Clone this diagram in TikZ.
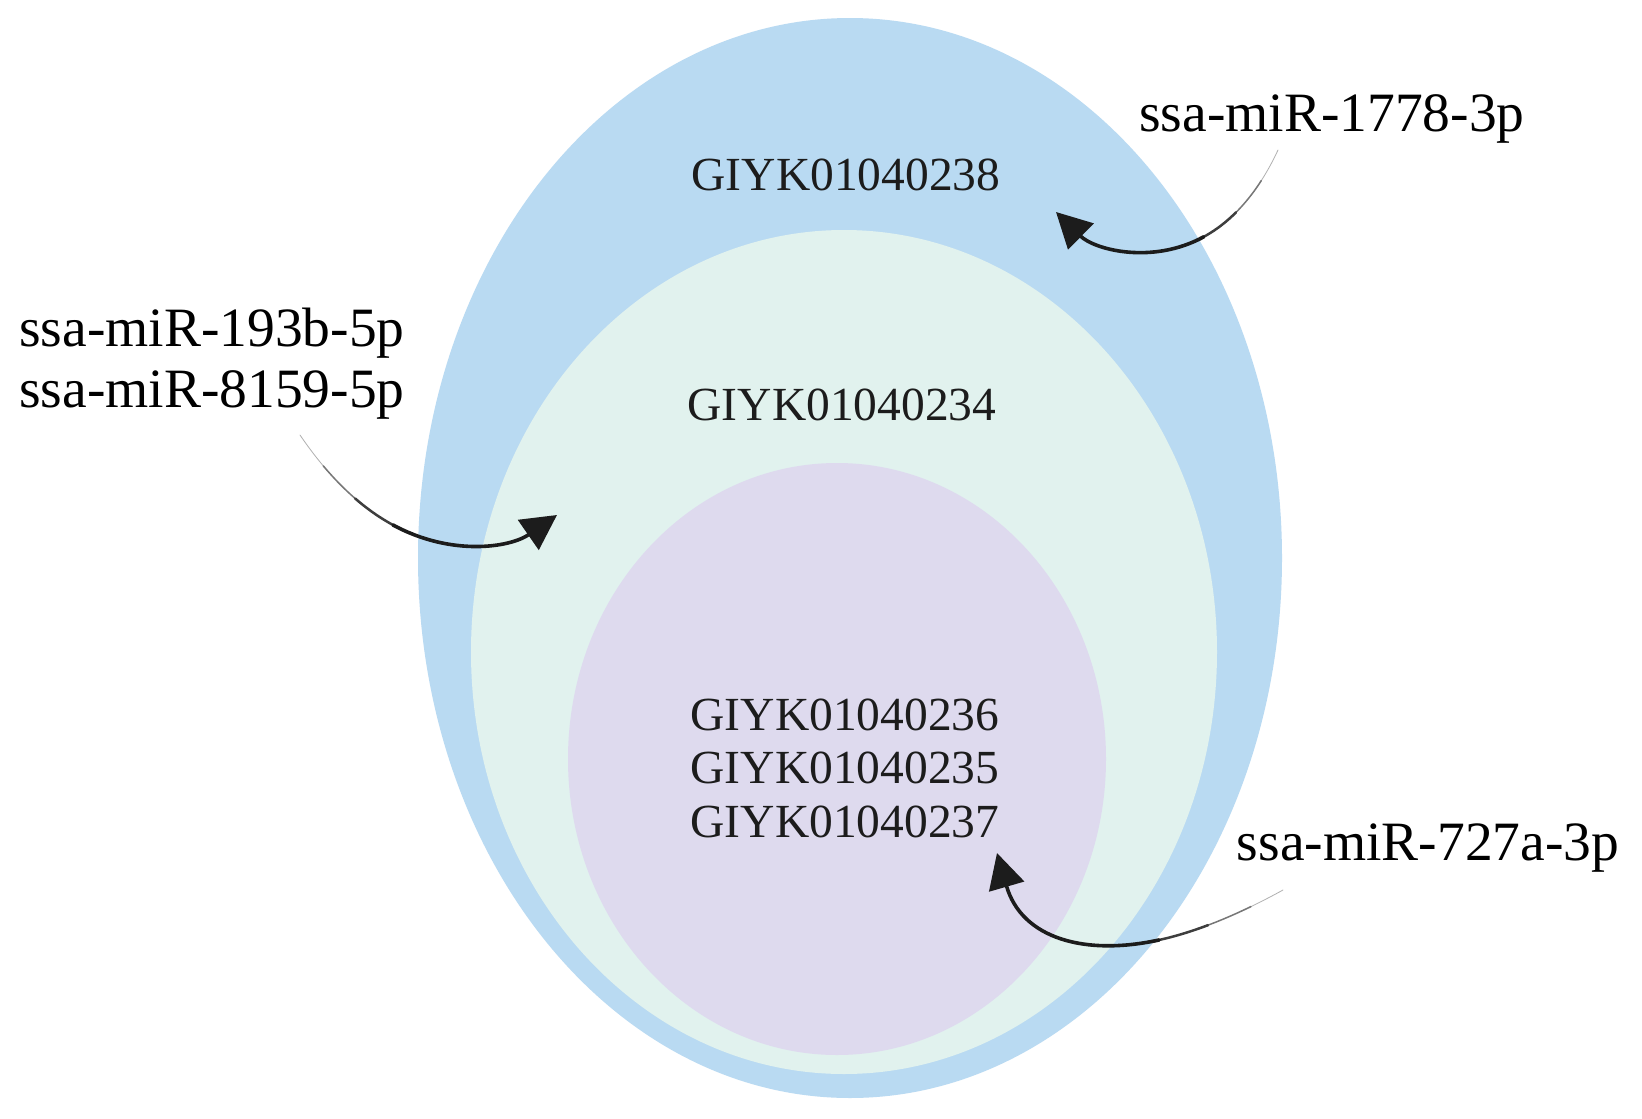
\documentclass[tikz,border=0pt]{standalone}
\usepackage{fontspec}
\setmainfont{Liberation Serif}
\usetikzlibrary{shapes.geometric,arrows.meta}
\definecolor{outerblue}{HTML}{B9DAF2}
\definecolor{midgreen}{HTML}{E1F2EE}
\definecolor{innerlav}{HTML}{DEDAEE}
\definecolor{inkdark}{HTML}{1C1C1C}
% tapered curved arrow: #1 tail node, #2 #3 first control, #4 #5 second control, #6 head node
\newcommand\taperarrow[6]{%
  \begin{pgfscope}
    \pgfsetroundcap
    \pgfsetstrokecolor{inkdark!35}\pgfsetlinewidth{0.8pt}%
    \pgfpathcurvebetweentime{0}{0.12}{\pgfpointanchor{#1}{center}}{\pgfpointxy{#2}{#3}}{\pgfpointxy{#4}{#5}}{\pgfpointanchor{#6}{center}}%
    \pgfusepath{stroke}
  \end{pgfscope}
  \begin{pgfscope}
    \pgfsetroundcap
    \pgfsetstrokecolor{inkdark!60}\pgfsetlinewidth{1.5pt}%
    \pgfpathcurvebetweentime{0.09}{0.24}{\pgfpointanchor{#1}{center}}{\pgfpointxy{#2}{#3}}{\pgfpointxy{#4}{#5}}{\pgfpointanchor{#6}{center}}%
    \pgfusepath{stroke}
  \end{pgfscope}
  \begin{pgfscope}
    \pgfsetroundcap
    \pgfsetstrokecolor{inkdark!85}\pgfsetlinewidth{2.5pt}%
    \pgfpathcurvebetweentime{0.21}{0.38}{\pgfpointanchor{#1}{center}}{\pgfpointxy{#2}{#3}}{\pgfpointxy{#4}{#5}}{\pgfpointanchor{#6}{center}}%
    \pgfusepath{stroke}
  \end{pgfscope}
  \begin{pgfscope}
    \pgfsetroundcap
    \pgfsetstrokecolor{inkdark}\pgfsetfillcolor{inkdark}\pgfsetlinewidth{3.6pt}%
    \pgfsetarrowsend{Triangle[length=35pt,width=36pt]}%
    \pgfpathcurvebetweentime{0.35}{1}{\pgfpointanchor{#1}{center}}{\pgfpointxy{#2}{#3}}{\pgfpointxy{#4}{#5}}{\pgfpointanchor{#6}{center}}%
    \pgfusepath{stroke}
  \end{pgfscope}}
\begin{document}
\begin{tikzpicture}[x=1pt,y=-1pt,
  blob/.style={ellipse,draw=none,inner sep=0pt},
  gene/.style={font=\fontsize{47.5}{53}\selectfont,text=inkdark,inner sep=0pt,anchor=base},
  mirlabel/.style={font=\fontsize{55.5}{62}\selectfont,text=black,inner sep=0pt,anchor=base}]
\useasboundingbox (0,0) rectangle (1642,1119);
\fill[white] (0,0) rectangle (1642,1119);
% nested ellipses
\node[blob,fill=outerblue,minimum width=864pt,minimum height=1080pt] (outer) at (850,558) {};
\node[blob,fill=midgreen,minimum width=746pt,minimum height=844pt] (middle) at (844,652) {};
\node[blob,fill=innerlav,minimum width=538pt,minimum height=592pt] (inner) at (837,759) {};
% gene texts
\node[gene] (g238) at (846,190) {GIYK01040238};
\node[gene] (g234) at (842,420) {GIYK01040234};
\node[gene] (g236) at (845,730) {GIYK01040236};
\node[gene] (g235) at (845,783) {GIYK01040235};
\node[gene] (g237) at (845,837) {GIYK01040237};
% miRNA labels
\node[mirlabel] (m1778) at (1332,131) {ssa-miR-1778-3p};
\node[mirlabel] (m193) at (212,346) {ssa-miR-193b-5p};
\node[mirlabel] (m8159) at (212,407) {ssa-miR-8159-5p};
\node[mirlabel] (m727) at (1428,860) {ssa-miR-727a-3p};
% arrow end points
\coordinate (t1) at (1278,150);
\coordinate (h1) at (1056,212);
\coordinate (t2) at (300,435);
\coordinate (h2) at (557,515);
\coordinate (t3) at (1283,890);
\coordinate (h3) at (997,853);
% arrows
\taperarrow{t1}{1220}{275}{1115}{270}{h1}
\taperarrow{t2}{385}{560}{485}{565}{h2}
\taperarrow{t3}{1165}{955}{1035}{985}{h3}
\end{tikzpicture}
\end{document}
